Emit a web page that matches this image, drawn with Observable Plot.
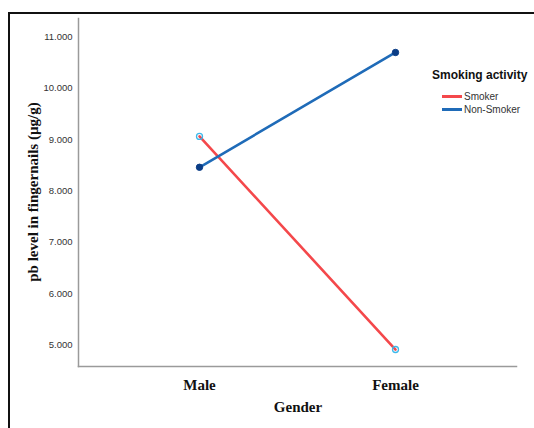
<!DOCTYPE html>
<html>
<head>
<meta charset="utf-8">
<script src="https://cdn.jsdelivr.net/npm/d3@7"></script>
<script src="https://cdn.jsdelivr.net/npm/@observablehq/plot@0.6"></script>
<style>
  html, body { margin: 0; padding: 0; background: #fff; }
  #wrap { position: relative; width: 534px; height: 428px; overflow: hidden; }
  #frame { position: absolute; left: 8px; top: 12px; width: 600px; height: 500px;
           border-left: 2px solid #111; border-top: 2px solid #111; box-sizing: border-box; pointer-events: none; }
  #legend { position: absolute; left: 432px; top: 68px; font-family: "Liberation Sans", Arial, sans-serif; }
  #legend .title { font-weight: bold; font-size: 12px; color: #111; white-space: nowrap; margin-bottom: 8px; }
  #legend .item { display: flex; align-items: center; height: 13px; margin-left: 10px; font-size: 10px; color: #333; white-space: nowrap; }
  #legend .sw { width: 20px; height: 2.5px; margin-right: 2px; }
  #ylabel { position: absolute; left: 33px; top: 192px; transform: translate(-50%, -50%) rotate(-90deg);
            font-family: "Liberation Serif", "Times New Roman", serif; font-weight: bold; font-size: 15px; white-space: nowrap; color: #111; }
  #xlabel { position: absolute; left: 298px; top: 407px; transform: translate(-50%, -50%);
            font-family: "Liberation Serif", "Times New Roman", serif; font-weight: bold; font-size: 15px; white-space: nowrap; color: #111; }
</style>
</head>
<body>
<div id="wrap"></div>
<script>
const genders = ["Male", "Female"];
const seriesNames = ["Smoker", "Non-Smoker"];
const smokerValues = [9.06, 4.92];
const nonSmokerValues = [8.46, 10.69];
const yTicks = [5, 6, 7, 8, 9, 10, 11];
const seriesColors = ["#f4484b", "#1f6bb8"];
const markerStroke = ["#3db8ea", "#0b3d86"];
const markerFill = ["none", "#0b3d86"];

const valuesBySeries = [smokerValues, nonSmokerValues];
const data = [];
seriesNames.forEach((s, si) => {
  genders.forEach((g, gi) => data.push({series: s, gender: g, value: valuesBySeries[si][gi]}));
});

const chart = Plot.plot({
  width: 534,
  height: 428,
  marginLeft: 78,
  marginRight: 18,
  marginTop: 18,
  marginBottom: 62,
  style: {background: "transparent", overflow: "visible"},
  x: {type: "point", domain: genders, padding: 0.617, label: null},
  y: {domain: [4.59, 11.35], label: null},
  color: {domain: seriesNames, range: seriesColors},
  marks: [
    Plot.frame({anchor: "left", stroke: "#9a9a9a", strokeWidth: 1.5}),
    Plot.frame({anchor: "bottom", stroke: "#9a9a9a", strokeWidth: 1.5}),
    Plot.axisY({ticks: yTicks, tickSize: 0, tickPadding: 6, tickFormat: d3.format(".3f"),
      fontSize: 9.5, fill: "#333", fontFamily: "Liberation Sans, Arial, sans-serif", label: null}),
    Plot.axisX({tickSize: 0, tickPadding: 13, fontSize: 15, fontWeight: "bold", fill: "#111",
      fontFamily: "Liberation Serif, Times New Roman, serif", label: null}),
    Plot.line(data, {x: "gender", y: "value", z: "series", stroke: "series", strokeWidth: 2.6}),
    Plot.dot(data.filter(d => d.series === seriesNames[0]), {x: "gender", y: "value", r: 3,
      stroke: markerStroke[0], fill: markerFill[0], strokeWidth: 1.3}),
    Plot.dot(data.filter(d => d.series === seriesNames[1]), {x: "gender", y: "value", r: 3.2,
      stroke: markerStroke[1], fill: markerFill[1], strokeWidth: 1})
  ]
});

const wrap = document.getElementById("wrap");
wrap.appendChild(chart);

const frame = document.createElement("div");
frame.id = "frame";
wrap.appendChild(frame);

const yl = document.createElement("div");
yl.id = "ylabel";
yl.textContent = "pb level in fingernails (µg/g)";
wrap.appendChild(yl);

const xl = document.createElement("div");
xl.id = "xlabel";
xl.textContent = "Gender";
wrap.appendChild(xl);

const legend = document.createElement("div");
legend.id = "legend";
const t = document.createElement("div");
t.className = "title";
t.textContent = "Smoking activity";
legend.appendChild(t);
seriesNames.forEach((s, i) => {
  const it = document.createElement("div");
  it.className = "item";
  const sw = document.createElement("span");
  sw.className = "sw";
  sw.style.background = seriesColors[i];
  it.appendChild(sw);
  const tx = document.createElement("span");
  tx.textContent = s;
  it.appendChild(tx);
  legend.appendChild(it);
});
wrap.appendChild(legend);
</script>
</body>
</html>
